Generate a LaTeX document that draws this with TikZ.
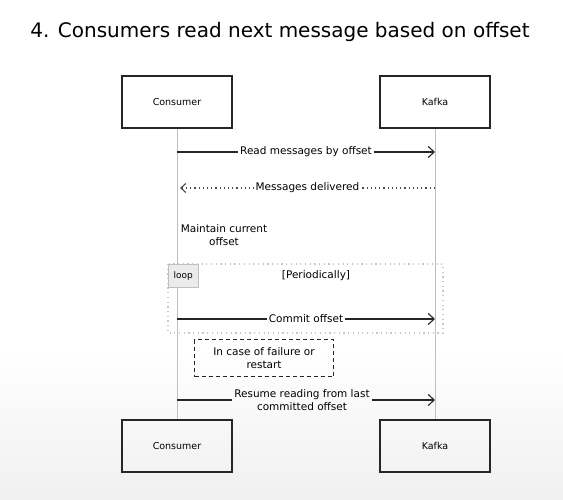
\documentclass[tikz,border=0pt]{standalone}
\usepackage{fontspec}
\setmainfont{DejaVu Sans}
\usetikzlibrary{arrows.meta}
\pgfdeclareverticalshading{backdrop}{100bp}{color(0bp)=(black!16); color(40bp)=(white); color(100bp)=(white)}
\tikzset{
  actor/.style={draw=black!85, line width=1.1pt, minimum width=110pt, minimum height=52pt, font=\fontsize{9.5}{11}\selectfont},
  lifeline/.style={draw=black!25, line width=.8pt},
  msgline/.style={draw=black!85, line width=1.1pt},
  msg/.style={msgline, -{Straight Barb[length=6pt,width=11pt,line width=1.1pt]}},
  reply/.style={draw=black!70, line width=1.1pt, dash pattern=on 1.2pt off 3pt, -{Straight Barb[length=5pt,width=9pt]}},
  note/.style={font=\fontsize{10.5}{13}\selectfont, align=center}
}
\begin{document}
\begin{tikzpicture}[x=1pt, y=-1pt]

        \shade[shading=backdrop] (0,0) rectangle (563,500);
        \useasboundingbox (0,0) rectangle (563,500);

        \node (title) at (280,32) {\fontsize{20}{22}\selectfont 4. Consumers read next message based on offset};

        \begin{scope}[every node/.style={actor}]
          \node (c1) at (177,102) {Consumer};
          \node (k1) at (435,102) {Kafka};
          \node (c2) at (177,446) {Consumer};
          \node (k2) at (435,446) {Kafka};
        \end{scope}

        \path[lifeline] (c1) -- (c2);
        \path[lifeline] (k1) -- (k2);

        \foreach \n/\y in {read/152, got/188, commit/319, resume/400} {
          \coordinate (c-\n) at (177,\y);
          \coordinate (k-\n) at (435,\y);
        }
        \coordinate (c-tip) at (180,188);

        % loop frame
        \draw[black!22, line width=1.2pt, dash pattern=on 1.2pt off 3.5pt] (168,264) rectangle (443,333);
        \node[draw=black!25, fill=black!8, minimum width=30pt, minimum height=23pt, anchor=north west, font=\fontsize{9}{10}\selectfont] (loop) at (168,264) {loop};
        \node[note] (period) at (316,276) {[Periodically]};

        \node[note] (keep) at (224,235) {Maintain current\\offset};
        \node[note, draw=black!85, line width=1.2pt, dash pattern=on 4pt off 3pt, minimum width=139pt, minimum height=37pt] (fail) at (264,358) {In case of failure or\\restart};

        \begin{scope}[every node/.style={note, inner sep=2pt}]
          \path (c-read) edge[msg] node[fill=white] {Read messages by offset} (k-read);
          \path (k-got) edge[reply] node[fill=white] {Messages delivered} (c-tip);
          \path (c-commit) edge[msg] node[fill=white] {Commit offset} (k-commit);
          \node (resume) at (302,400) {Resume reading from last\\committed offset};
        \end{scope}
        \path[msgline] (c-resume) -- (resume.west);
        \path[msg] (resume.east) -- (k-resume);

      \end{tikzpicture}
\end{document}
